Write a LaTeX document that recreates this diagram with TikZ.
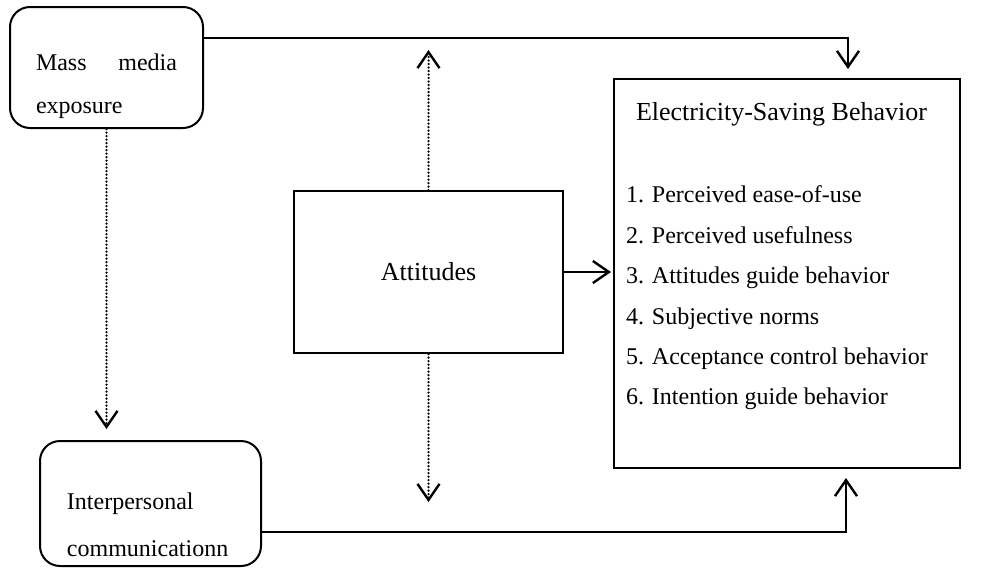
\documentclass[tikz,border=0pt]{standalone}
\usepackage{fontspec}
\setmainfont{Liberation Serif}
\usetikzlibrary{arrows.meta}
\begin{document}
\begin{tikzpicture}[x=0.5pt, y=-0.5pt, line width=1pt,
  box/.style={draw, inner sep=0pt},
  conn/.style={-{Straight Barb[length=8pt,width=11pt,line width=1.2pt]}},
  dotconn/.style={conn, line width=1.25pt, dash pattern=on 0pt off 1.75pt, line cap=round}]
\useasboundingbox (0,0) rectangle (992,568);
\node[box, rounded corners=10pt, minimum width=96.5pt, minimum height=60.5pt] (mass) at (106.5,67.5) {};
\node[text width=70.5pt, align=justify, inner sep=0pt, font=\fontsize{12}{21.5}\selectfont] (masslbl) at (106.5,86) {\hyphenpenalty=10000 Mass media exposure};
\node[box, rounded corners=10pt, minimum width=110.5pt, minimum height=62.5pt] (inter) at (150.5,503.5) {};
\node[anchor=west, align=left, inner sep=0pt, font=\fontsize{12}{23.5}\selectfont] (interlbl) at (66,525) {Interpersonal\\communicationn};
\node[box, minimum width=134.5pt, minimum height=81pt, font=\fontsize{13}{15}\selectfont] (att) at (428.5,272) {Attitudes};
\node[box, minimum width=173pt, minimum height=194.5pt] (beh) at (787,273.5) {};
\node[anchor=west, inner sep=0pt, font=\fontsize{13}{15}\selectfont] (behtitle) at (635,114) {Electricity-Saving Behavior};
\node[anchor=west, align=left, inner sep=0pt, font=\fontsize{12}{20.2}\selectfont] (behlist) at (625,298) {1. Perceived ease-of-use\\2. Perceived usefulness\\3. Attitudes guide behavior\\4. Subjective norms\\5. Acceptance control behavior\\6. Intention guide behavior};
\coordinate (topbend) at (848,38);
\coordinate (botbend) at (846,532);
\coordinate (uptip) at (428,50);
\coordinate (downtip) at (429,502);
\draw[conn, shorten >=4.5pt] (mass.east |- topbend) -- (topbend) -- (topbend |- beh.north);
\draw[conn, shorten >=4.5pt] (inter.east |- botbend) -- (botbend) -- (botbend |- beh.south);
\draw[conn, shorten >=1pt] (att.east) -- (att.east -| beh.west);
\draw[dotconn] (att.north) -- (att.north |- uptip);
\draw[dotconn] (att.south) -- (att.south |- downtip);
\draw[dotconn, shorten >=5.5pt] (mass.south) -- (mass.south |- inter.north);
\end{tikzpicture}
\end{document}
